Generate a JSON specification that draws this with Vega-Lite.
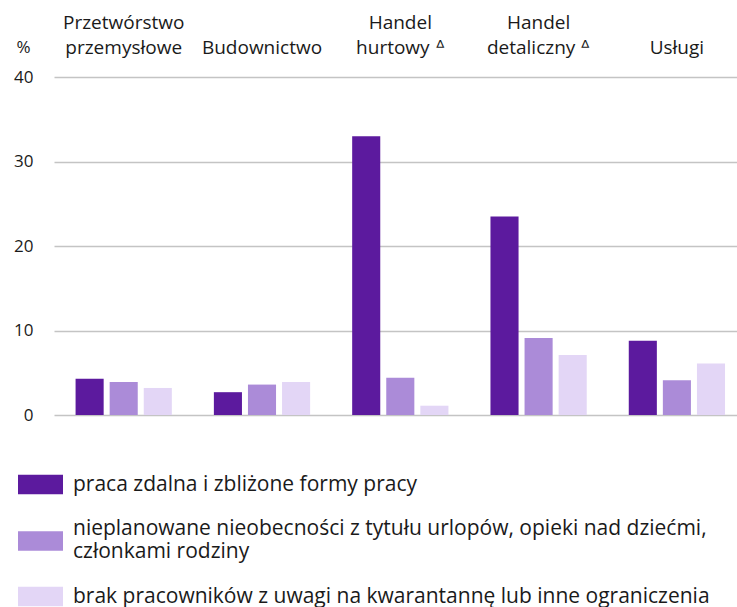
{
  "$schema": "https://vega.github.io/schema/vega-lite/v6.json",
  "autosize": {"type": "none"},
  "padding": {"left": 54, "top": 77, "right": 0, "bottom": 192},
  "width": 683,
  "height": 338,
  "background": "white",
  "config": {
    "view": {"stroke": null},
    "font": "Open Sans",
    "text": {"font": "Open Sans"}
  },
  "data": {
    "values": [
      {"sektor": "Przetwórstwo|przemysłowe", "seria": "praca zdalna i zbliżone formy pracy", "wartosc": 4.3},
      {"sektor": "Przetwórstwo|przemysłowe", "seria": "nieplanowane nieobecności z tytułu urlopów, opieki nad dziećmi, członkami rodziny", "wartosc": 3.9},
      {"sektor": "Przetwórstwo|przemysłowe", "seria": "brak pracowników z uwagi na kwarantannę lub inne ograniczenia", "wartosc": 3.2},
      {"sektor": "Budownictwo", "seria": "praca zdalna i zbliżone formy pracy", "wartosc": 2.7},
      {"sektor": "Budownictwo", "seria": "nieplanowane nieobecności z tytułu urlopów, opieki nad dziećmi, członkami rodziny", "wartosc": 3.6},
      {"sektor": "Budownictwo", "seria": "brak pracowników z uwagi na kwarantannę lub inne ograniczenia", "wartosc": 3.9},
      {"sektor": "Handel|hurtowy ᐞ", "seria": "praca zdalna i zbliżone formy pracy", "wartosc": 33.0},
      {"sektor": "Handel|hurtowy ᐞ", "seria": "nieplanowane nieobecności z tytułu urlopów, opieki nad dziećmi, członkami rodziny", "wartosc": 4.4},
      {"sektor": "Handel|hurtowy ᐞ", "seria": "brak pracowników z uwagi na kwarantannę lub inne ograniczenia", "wartosc": 1.1},
      {"sektor": "Handel|detaliczny ᐞ", "seria": "praca zdalna i zbliżone formy pracy", "wartosc": 23.5},
      {"sektor": "Handel|detaliczny ᐞ", "seria": "nieplanowane nieobecności z tytułu urlopów, opieki nad dziećmi, członkami rodziny", "wartosc": 9.1},
      {"sektor": "Handel|detaliczny ᐞ", "seria": "brak pracowników z uwagi na kwarantannę lub inne ograniczenia", "wartosc": 7.1},
      {"sektor": "Usługi", "seria": "praca zdalna i zbliżone formy pracy", "wartosc": 8.8},
      {"sektor": "Usługi", "seria": "nieplanowane nieobecności z tytułu urlopów, opieki nad dziećmi, członkami rodziny", "wartosc": 4.1},
      {"sektor": "Usługi", "seria": "brak pracowników z uwagi na kwarantannę lub inne ograniczenia", "wartosc": 6.1}
    ]
  },
  "mark": {"type": "bar"},
  "encoding": {
    "x": {
      "field": "sektor",
      "type": "nominal",
      "sort": null,
      "scale": {"range": [0, 692.6], "paddingInner": 0.304, "paddingOuter": 0.156},
      "axis": {
        "orient": "top",
        "title": null,
        "domain": false,
        "ticks": false,
        "labelAngle": 0,
        "labelBaseline": "alphabetic",
        "labelPadding": 49,
        "labelFontSize": 19,
        "labelLineHeight": 25,
        "labelColor": "#1a1a1a",
        "labelFont": "Open Sans",
        "labelExpr": "indexof(datum.label, '|') >= 0 ? split(datum.label, '|') : ['', datum.label]"
      }
    },
    "xOffset": {
      "field": "seria",
      "type": "nominal",
      "sort": null,
      "scale": {"paddingInner": 0.176, "paddingOuter": 0}
    },
    "y": {
      "field": "wartosc",
      "type": "quantitative",
      "scale": {"domain": [0, 40]},
      "axis": {
        "title": "%",
        "titleAngle": 0,
        "titleX": -31,
        "titleY": -30,
        "titleAlign": "center",
        "titleBaseline": "middle",
        "titleFontSize": 17,
        "titleFontWeight": "normal",
        "titleColor": "#1a1a1a",
        "titleFont": "Open Sans",
        "values": [0, 10, 20, 30, 40],
        "domain": false,
        "ticks": false,
        "grid": true,
        "gridColor": "#c4c4c4",
        "gridWidth": 1.5,
        "labelPadding": 21,
        "labelFontSize": 17,
        "labelColor": "#1a1a1a",
        "labelFont": "Open Sans"
      }
    },
    "color": {
      "field": "seria",
      "type": "nominal",
      "sort": null,
      "scale": {
        "domain": [
          "praca zdalna i zbliżone formy pracy",
          "nieplanowane nieobecności z tytułu urlopów, opieki nad dziećmi, członkami rodziny",
          "brak pracowników z uwagi na kwarantannę lub inne ograniczenia"
        ],
        "range": ["#5c1a9e", "#ab8bd8", "#e3d6f6"]
      },
      "legend": {
        "orient": "none",
        "legendX": -36,
        "legendY": 385,
        "direction": "vertical",
        "title": null,
        "padding": 0,
        "symbolType": "M-1,-0.43H1V0.43H-1Z",
        "symbolSize": 2025,
        "symbolStrokeWidth": 0,
        "symbolOpacity": 1,
        "labelOffset": 10,
        "labelFontSize": 21,
        "labelLineHeight": 24,
        "labelColor": "#1a1a1a",
        "labelFont": "Open Sans",
        "labelLimit": 900,
        "rowPadding": 11.5,
        "labelExpr": "datum.label == 'nieplanowane nieobecności z tytułu urlopów, opieki nad dziećmi, członkami rodziny' ? ['nieplanowane nieobecności z tytułu urlopów, opieki nad dziećmi,', 'członkami rodziny'] : datum.label",
        "encode": {
          "symbols": {
            "update": {
              "shape": {"signal": "datum.label == 'nieplanowane nieobecności z tytułu urlopów, opieki nad dziećmi, członkami rodziny' ? 'M-1,0.103H1V0.963H-1Z' : 'M-1,-0.43H1V0.43H-1Z'"}
            }
          }
        }
      }
    }
  }
}
